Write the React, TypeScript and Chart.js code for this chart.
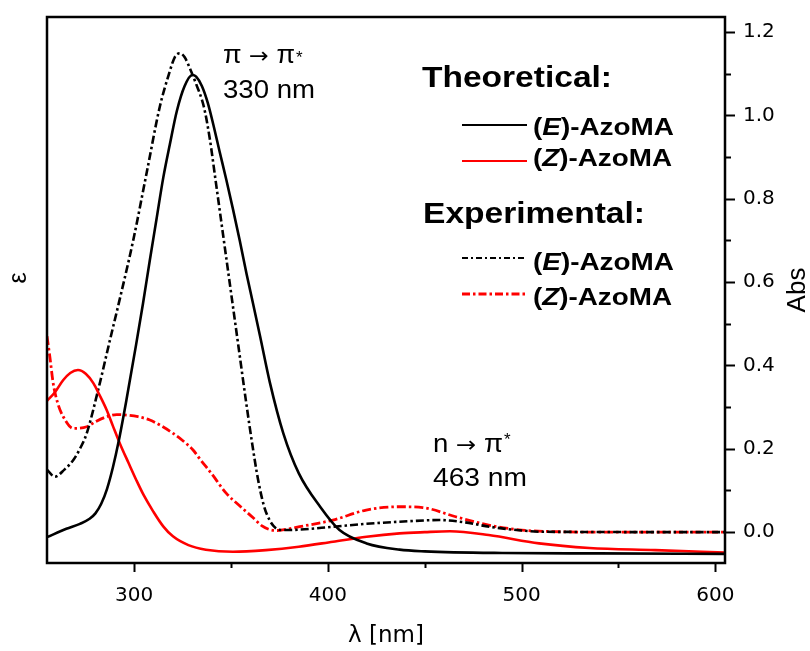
import React, { useEffect, useRef } from "react";
import { Chart, registerables } from "chart.js";

Chart.register(...registerables);

// ---- Data (wavelength in nm, absorbance as plotted on the right axis) ----
const theoEWl = [255, 265, 272, 277, 280, 283, 286, 289, 292, 296, 301, 304.6, 308, 311.5, 315, 318.4, 322, 326, 330, 332, 335, 338, 341, 344, 347.6, 351, 354.5, 358, 361.3, 365, 370, 377, 385, 396, 406, 420, 437, 450, 490, 540, 605];
const theoEAbs = [-0.012, 0.008, 0.02, 0.032, 0.045, 0.068, 0.104, 0.155, 0.218, 0.317, 0.45, 0.55, 0.65, 0.75, 0.85, 0.93, 1.01, 1.07, 1.097, 1.093, 1.07, 1.03, 0.975, 0.915, 0.845, 0.775, 0.7, 0.62, 0.55, 0.47, 0.36, 0.237, 0.141, 0.061, 0.005, -0.027, -0.042, -0.046, -0.05, -0.051, -0.052];

const theoZWl = [255, 259, 263.4, 267, 271, 275, 279, 282, 285.8, 289, 292.6, 297, 301.2, 305, 309.8, 315, 320, 328, 337, 351, 368, 385, 402.6, 420, 437, 450, 463, 483, 509, 535, 569, 605];
const theoZAbs = [0.315, 0.335, 0.365, 0.382, 0.389, 0.38, 0.357, 0.33, 0.293, 0.255, 0.213, 0.167, 0.124, 0.088, 0.05, 0.014, -0.01, -0.031, -0.042, -0.047, -0.043, -0.035, -0.023, -0.011, -0.003, 0.0, 0.002, -0.007, -0.027, -0.038, -0.043, -0.049];

const expEWl = [255, 259, 264, 268.6, 272, 275.5, 281.4, 287.5, 292.1, 299.5, 306.4, 313.2, 318, 321, 323.6, 326, 329, 332, 336, 339, 342, 346, 350, 354, 358, 361, 364, 367, 370, 373, 376, 385, 402.6, 420, 437, 457.6, 470, 483.4, 500, 510, 605];
const expEAbs = [0.15, 0.133, 0.15, 0.173, 0.2, 0.237, 0.341, 0.461, 0.55, 0.7, 0.861, 1.02, 1.1, 1.14, 1.149, 1.14, 1.11, 1.075, 1.02, 0.945, 0.845, 0.71, 0.575, 0.44, 0.305, 0.21, 0.125, 0.063, 0.028, 0.01, 0.005, 0.006, 0.013, 0.02, 0.025, 0.029, 0.024, 0.013, 0.004, 0.001, 0.0];

const expZWl = [255, 256.5, 258.2, 260.5, 263.4, 268.6, 275.5, 280, 285.8, 291, 296.1, 302, 308.1, 314, 320.1, 325, 330.4, 334, 340, 347.6, 354, 361.3, 366, 370, 374, 380, 385.4, 402.6, 419.8, 437, 449, 466, 483, 500, 520, 535, 605];
const expZAbs = [0.47, 0.42, 0.357, 0.31, 0.277, 0.249, 0.253, 0.265, 0.277, 0.282, 0.281, 0.277, 0.269, 0.255, 0.237, 0.22, 0.197, 0.175, 0.14, 0.093, 0.065, 0.035, 0.015, 0.006, 0.004, 0.008, 0.013, 0.029, 0.053, 0.061, 0.059, 0.037, 0.017, 0.005, 0.001, 0.0, 0.0];

const xMajorTicks = [300, 400, 500, 600];
const xMinorTicks = [350, 450, 550];
const yMajorTicks = [0, 0.2, 0.4, 0.6, 0.8, 1.0, 1.2];
const yMinorTicks = [0.1, 0.3, 0.5, 0.7, 0.9, 1.1];

const xMin = 255;
const xMax = 605;
const yMin = -0.074;
const yMax = 1.236;

const RED = "#ff0000";
const BLACK = "#000000";

const toPoints = (xs: number[], ys: number[]) => xs.map((x, i) => ({ x, y: ys[i] }));

type Part = [string, string];

function drawParts(ctx: CanvasRenderingContext2D, parts: Part[], x: number, y: number, targetW: number) {
  let total = 0;
  const widths: number[] = [];
  for (const [t, f] of parts) {
    ctx.font = f;
    const w = ctx.measureText(t).width;
    widths.push(w);
    total += w;
  }
  const s = targetW > 0 ? targetW / total : 1;
  ctx.save();
  ctx.translate(x, y);
  ctx.scale(s, 1);
  ctx.textAlign = "left";
  ctx.textBaseline = "alphabetic";
  let cx = 0;
  parts.forEach(([t, f], i) => {
    ctx.font = f;
    ctx.fillText(t, cx, 0);
    cx += widths[i];
  });
  ctx.restore();
}

const decorPlugin = {
  id: "decor",
  afterDatasetsDraw(chart: any) {
    const ctx: CanvasRenderingContext2D = chart.ctx;
    const { left, right, top, bottom } = chart.chartArea;
    const xs = chart.scales.x;
    const ys = chart.scales.y;
    ctx.save();
    ctx.fillStyle = BLACK;
    ctx.strokeStyle = BLACK;

    // frame
    ctx.lineWidth = 2.5;
    ctx.setLineDash([]);
    ctx.strokeRect(left, top, right - left, bottom - top);

    // tick marks
    ctx.lineWidth = 2;
    const xTick = (v: number, len: number) => {
      const px = Math.round(xs.getPixelForValue(v)) + 0.5;
      ctx.beginPath();
      ctx.moveTo(px, bottom);
      ctx.lineTo(px, bottom + len);
      ctx.stroke();
    };
    xMajorTicks.forEach((v) => xTick(v, 9));
    xMinorTicks.forEach((v) => xTick(v, 5));
    const yTick = (v: number, len: number) => {
      const py = Math.round(ys.getPixelForValue(v)) + 0.5;
      ctx.beginPath();
      ctx.moveTo(right, py);
      ctx.lineTo(right + len, py);
      ctx.stroke();
    };
    yMajorTicks.forEach((v) => yTick(v, 10));
    yMinorTicks.forEach((v) => yTick(v, 6));

    // annotations
    const reg = (n: number) => `${n}px "Liberation Sans", Arial, sans-serif`;
    const arrowFont = (n: number) => `${n}px "DejaVu Sans", sans-serif`;
    drawParts(ctx, [["π ", reg(25)], ["→", arrowFont(22)], [" π", reg(25)]], 223, 63, 72);
    drawParts(ctx, [["*", reg(17)]], 296, 63, 0);
    drawParts(ctx, [["330 nm", reg(25)]], 223, 98, 92);
    drawParts(ctx, [["n ", reg(25)], ["→", arrowFont(22)], [" π", reg(25)]], 433, 452, 70);
    drawParts(ctx, [["*", reg(17)]], 504, 445, 0);
    drawParts(ctx, [["463 nm", reg(25)]], 433, 486, 94);

    // custom legend
    const bold = (n: number) => `bold ${n}px "Liberation Sans", Arial, sans-serif`;
    const boldIt = (n: number) => `italic bold ${n}px "Liberation Sans", Arial, sans-serif`;
    drawParts(ctx, [["Theoretical:", bold(30)]], 422, 87, 190);
    drawParts(ctx, [["Experimental:", bold(30)]], 423, 223, 222);
    const entry = (letter: string, y: number, w: number) =>
      drawParts(ctx, [["(", bold(23)], [letter, boldIt(23)], [")-AzoMA", bold(23)]], 533, y, w);
    entry("E", 135, 141);
    entry("Z", 166, 139);
    entry("E", 270, 141);
    entry("Z", 305, 139);

    const sample = (y: number, color: string, dash: number[], w: number) => {
      ctx.beginPath();
      ctx.strokeStyle = color;
      ctx.lineWidth = w;
      ctx.setLineDash(dash);
      ctx.moveTo(462, y);
      ctx.lineTo(527, y);
      ctx.stroke();
    };
    sample(125, BLACK, [], 2.2);
    sample(161, RED, [], 2.2);
    sample(258, BLACK, [6, 3, 2, 3], 2.2);
    sample(294, RED, [8, 3, 2.5, 3], 2.8);
    ctx.setLineDash([]);

    // rotated axis titles
    ctx.fillStyle = BLACK;
    ctx.textAlign = "center";
    ctx.textBaseline = "middle";
    ctx.save();
    ctx.translate(19, 278);
    ctx.rotate(-Math.PI / 2);
    ctx.font = `25px "Liberation Sans", Arial, sans-serif`;
    ctx.fillText("ε", 0, 0);
    ctx.restore();
    ctx.save();
    ctx.translate(798, 290);
    ctx.rotate(-Math.PI / 2);
    ctx.font = `26px "Liberation Sans", Arial, sans-serif`;
    ctx.fillText("Abs", 0, 0);
    ctx.restore();

    ctx.restore();
  },
};

export default function App() {
  const canvasRef = useRef<HTMLCanvasElement | null>(null);

  useEffect(() => {
    const canvas = canvasRef.current;
    if (!canvas) return;
    const common = {
      pointRadius: 0,
      pointHoverRadius: 0,
      fill: false,
      cubicInterpolationMode: "monotone" as const,
    };
    const chart = new Chart(canvas, {
      type: "line",
      data: {
        datasets: [
          { ...common, label: "(E)-AzoMA theoretical", data: toPoints(theoEWl, theoEAbs), borderColor: BLACK, borderWidth: 2.6 },
          { ...common, label: "(Z)-AzoMA theoretical", data: toPoints(theoZWl, theoZAbs), borderColor: RED, borderWidth: 2.6 },
          { ...common, label: "(E)-AzoMA experimental", data: toPoints(expEWl, expEAbs), borderColor: BLACK, borderWidth: 2.6, borderDash: [8, 3, 2.5, 3] },
          { ...common, label: "(Z)-AzoMA experimental", data: toPoints(expZWl, expZAbs), borderColor: RED, borderWidth: 2.8, borderDash: [9, 3, 2.5, 3] },
        ],
      },
      options: {
        animation: false,
        responsive: false,
        devicePixelRatio: 1,
        layout: { padding: { left: 47, top: 17, right: 0, bottom: 0 } },
        plugins: { legend: { display: false }, tooltip: { enabled: false } },
        events: [],
        scales: {
          x: {
            type: "linear",
            position: "bottom",
            min: xMin,
            max: xMax,
            afterBuildTicks: (s: any) => {
              s.ticks = xMajorTicks.map((v) => ({ value: v }));
            },
            afterFit: (s: any) => {
              s.height = 88;
              s.paddingLeft = 0;
              s.paddingRight = 0;
            },
            grid: { display: false, drawTicks: false, tickLength: 0 },
            border: { display: false },
            ticks: {
              autoSkip: false,
              maxRotation: 0,
              padding: 21,
              color: BLACK,
              font: { family: "DejaVu Sans", size: 20 },
              callback: (v: any) => String(v),
            },
            title: {
              display: true,
              text: "λ [nm]",
              color: BLACK,
              font: { family: "DejaVu Sans", size: 23 },
              padding: { top: 0, bottom: 1 },
            },
          },
          y: {
            type: "linear",
            position: "right",
            min: yMin,
            max: yMax,
            afterBuildTicks: (s: any) => {
              s.ticks = yMajorTicks.map((v) => ({ value: v }));
            },
            afterFit: (s: any) => {
              s.width = 85;
              s.paddingTop = 0;
              s.paddingBottom = 0;
            },
            grid: { display: false, drawTicks: false, tickLength: 0 },
            border: { display: false },
            ticks: {
              autoSkip: false,
              padding: 18,
              color: BLACK,
              font: { family: "DejaVu Sans", size: 20 },
              callback: (v: any) => Number(v).toFixed(1),
            },
          },
        },
      },
      plugins: [decorPlugin],
    } as any);
    return () => chart.destroy();
  }, []);

  return (
    <div style={{ position: "absolute", left: 0, top: 0, width: 810, height: 651, background: "#ffffff" }}>
      <canvas ref={canvasRef} width={810} height={651} style={{ display: "block", width: 810, height: 651 }} />
    </div>
  );
}
